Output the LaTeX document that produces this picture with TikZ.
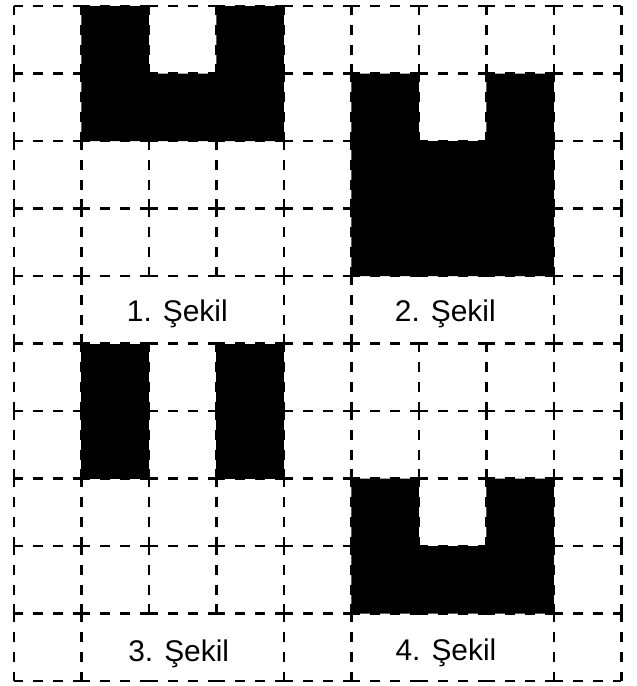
\documentclass[tikz,border=0pt]{standalone}
\usepackage{fontspec}
\setmainfont{Liberation Sans}
\begin{document}
\begin{tikzpicture}[
  gridedge/.style={line width=0.9pt, dash pattern=on 4.2pt off 4.2pt, dash phase=0.4pt},
  caption/.style={font=\fontsize{12.6}{15}\selectfont, anchor=base, inner sep=0pt}]
  \useasboundingbox (-0.207,-0.074) rectangle (9.23,10.089);
  % dashed grid, every cell edge on its own
  \foreach \y in {0,...,10}
    \foreach \x in {0,...,8}
      \draw[gridedge] (\x,\y) -- ++(1,0);
  \foreach \x in {0,1,4,5,8,9}
    \foreach \y in {0,...,9}
      \draw[gridedge] (\x,\y) -- ++(0,1);
  \foreach \x in {2,3,6,7}
    \foreach \y in {1,2,3,4,6,7,8,9}
      \draw[gridedge] (\x,\y) -- ++(0,1);
  % the four figures
  \fill (1,8) -| (4,10) -| (3,9) -| (2,10) -| cycle;
  \fill (5,6) -| (8,9) -| (7,8) -| (6,9) -| cycle;
  \fill (1,3) rectangle (2,5);
  \fill (3,3) rectangle (4,5);
  \fill (5,1) -| (8,3) -| (7,2) -| (6,3) -| cycle;
  \node[caption] (cap1) at (2.42,5.33) {1. Şekil};
  \node[caption] (cap2) at (6.39,5.33) {2. Şekil};
  \node[caption] (cap3) at (2.44,0.29) {3. Şekil};
  \node[caption] (cap4) at (6.40,0.30) {4. Şekil};
\end{tikzpicture}
\end{document}
